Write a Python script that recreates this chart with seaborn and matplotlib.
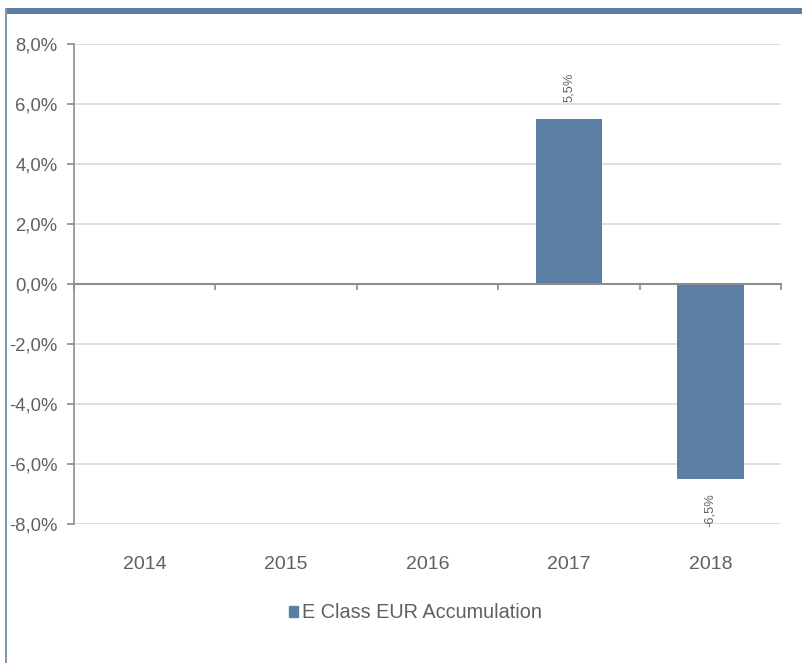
import numpy as np
import pandas as pd
import matplotlib
matplotlib.use("Agg")
import matplotlib.pyplot as plt
import matplotlib.patches as mpatches
import seaborn as sns

# ---- data ----
years = ["2014", "2015", "2016", "2017", "2018"]
returns = [0.0, 0.0, 0.0, 5.5, -6.5]
series_name = "E Class EUR Accumulation"
y_ticks = [-8, -6, -4, -2, 0, 2, 4, 6, 8]

BLUE = "#5b7fa4"
TEXT = "#606060"

sns.set_style("white")
plt.rcParams["font.family"] = ["Liberation Sans", "DejaVu Sans"]

df = pd.DataFrame({"year": years, "ret": returns})

fig = plt.figure(figsize=(8.03, 6.63), dpi=100)
W, H = 803, 663
ax = fig.add_axes([74 / W, 1 - 524 / H, (781 - 74) / W, (524 - 44) / H])

sns.barplot(data=df, x="year", y="ret", color=BLUE, width=0.47,
            saturation=1, ax=ax, zorder=3, linewidth=0)

ax.set_ylim(-8, 8)
ax.set_xlim(-0.5, len(years) - 0.5)
ax.set_yticks(y_ticks)
ax.set_yticklabels([f"{v:.1f}%".replace(".", ",") for v in y_ticks],
                   fontsize=13.3, color=TEXT)
ax.yaxis.grid(True, color="#d9d9d9", linewidth=1.2, zorder=0)
ax.set_xlabel("")
ax.set_ylabel("")

for s in ["top", "right"]:
    ax.spines[s].set_visible(False)
ax.spines["left"].set_color("#8c8c8c")
ax.spines["left"].set_linewidth(1.2)
ax.spines["bottom"].set_position(("data", 0))
ax.spines["bottom"].set_color("#8c8c8c")
ax.spines["bottom"].set_linewidth(1.5)
ax.spines["bottom"].set_zorder(4)
ax.tick_params(axis="y", direction="out", length=5, color="#8c8c8c", width=1.2, left=True, pad=7)

# boundary ticks on the zero line, labels on a secondary axis at the bottom
ax.set_xticks(np.arange(-0.5, len(years), 1.0))
ax.set_xticklabels([])
ax.tick_params(axis="x", direction="out", length=4, color="#8c8c8c", width=1.2, bottom=True)

sec = ax.secondary_xaxis(0.0)
sec.set_xticks(range(len(years)))
sec.set_xticklabels(years, fontsize=14, color=TEXT)
sec.tick_params(length=0, pad=23)
sec.spines["bottom"].set_visible(False)

# data labels
for i, v in enumerate(returns):
    if v == 0:
        continue
    lab = f"{v:.1f}%".replace(".", ",")
    if v > 0:
        ax.annotate(lab, (i, v), xytext=(0, 12.5), textcoords="offset points",
                    rotation=90, ha="center", va="bottom", fontsize=9.3, color=TEXT)
    else:
        ax.annotate(lab, (i, v), xytext=(0, -10.5), textcoords="offset points",
                    rotation=90, ha="center", va="top", fontsize=9.3, color=TEXT)

# legend
handle = mpatches.Patch(color=BLUE, label=series_name)
fig.legend(handles=[handle], loc="center", bbox_to_anchor=(0.518, 1 - 613 / H),
           frameon=False, fontsize=14.3, labelcolor=TEXT,
           handlelength=0.45, handleheight=0.45, handletextpad=0.2)

# frame decoration: top band and left rule
fig.add_artist(mpatches.Rectangle((6 / W, 1 - 14 / H), 1 - 6 / W, 6 / H,
                                  transform=fig.transFigure, color=BLUE, lw=0))
fig.add_artist(mpatches.Rectangle((5 / W, 0), 2 / W, 1 - 8 / H,
                                  transform=fig.transFigure, color="#7b98b8", lw=0))

fig.savefig("out.png", dpi=100)
